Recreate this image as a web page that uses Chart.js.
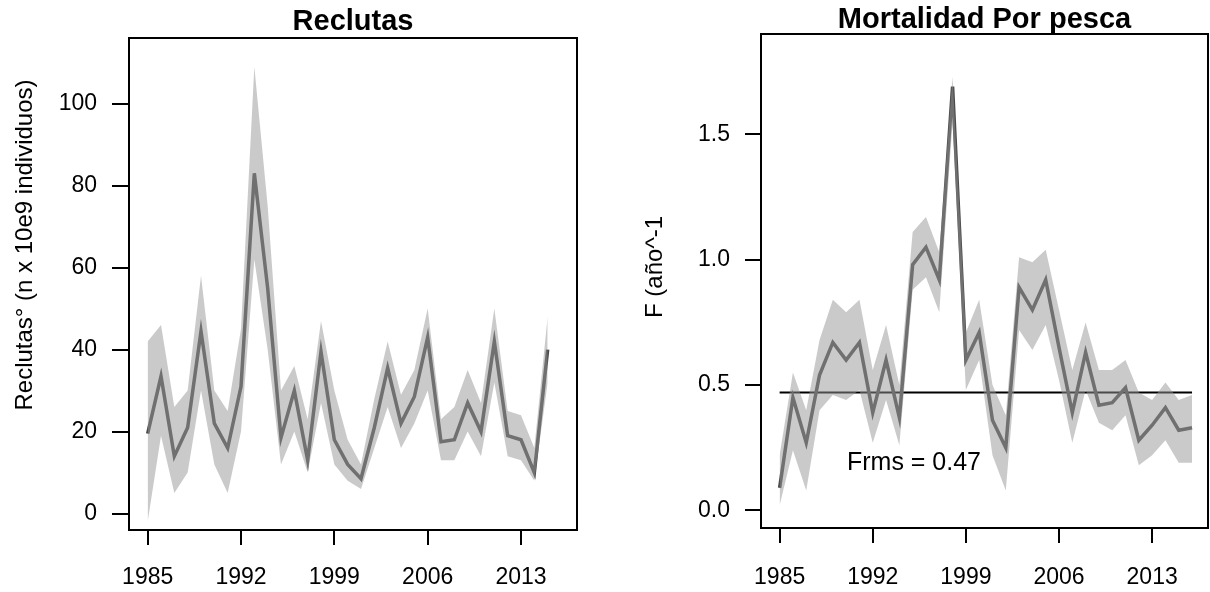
<!DOCTYPE html>
<html>
<head>
<meta charset="utf-8">
<script src="https://cdn.jsdelivr.net/npm/chart.js@4.4.1/dist/chart.umd.min.js"></script>
<style>
  html, body { margin: 0; padding: 0; background: #fff; }
  #wrap { position: relative; width: 1210px; height: 592px; }
  .panel { position: absolute; top: 0; width: 605px; height: 592px; }
</style>
</head>
<body>
<div id="wrap">
  <div class="panel" style="left:0"><canvas id="rec"></canvas></div>
  <div class="panel" style="left:605px"><canvas id="fm"></canvas></div>
</div>
<script>
// data
const yearsRec = [1985, 1986, 1987, 1988, 1989, 1990, 1991, 1992, 1993, 1994, 1995, 1996, 1997, 1998, 1999, 2000,
                  2001, 2002, 2003, 2004, 2005, 2006, 2007, 2008, 2009, 2010, 2011, 2012, 2013, 2014, 2015];
const reclutas     = [19.5, 33.5, 14, 21, 44.5, 22, 16, 31, 83, 55, 18.5, 30, 13, 39.5, 18, 12,
                      8.5, 21, 35.5, 22, 28.5, 43, 17.5, 18, 27, 20, 42, 19, 18, 10, 40];
const reclutasHigh = [42, 46, 26, 30, 58, 30, 25, 45, 109, 75, 30, 36, 23, 47, 30, 18,
                      12, 28, 42, 29, 35, 50, 23, 26, 35, 27, 50, 25, 24, 16, 48];
const reclutasLow  = [-2, 19, 5, 10, 30, 12, 5, 20, 62, 40, 12, 20, 10, 27, 12, 8,
                      6, 16, 26, 16, 22, 30, 13, 13, 20, 14, 32, 14, 13, 8, 32];

const yearsF = [1985, 1986, 1987, 1988, 1989, 1990, 1991, 1992, 1993, 1994, 1995, 1996, 1997, 1998, 1999, 2000,
                2001, 2002, 2003, 2004, 2005, 2006, 2007, 2008, 2009, 2010, 2011, 2012, 2013, 2014, 2015, 2016];
const mortF     = [0.09, 0.45, 0.27, 0.54, 0.67, 0.60, 0.67, 0.39, 0.60, 0.37, 0.98, 1.05, 0.92, 1.69, 0.60, 0.71,
                   0.36, 0.25, 0.89, 0.80, 0.92, 0.65, 0.39, 0.63, 0.42, 0.43, 0.49, 0.28, 0.34, 0.41, 0.32, 0.33];
const mortFHigh = [0.22, 0.55, 0.40, 0.68, 0.84, 0.79, 0.84, 0.56, 0.74, 0.50, 1.11, 1.17, 1.03, 1.73, 0.71, 0.84,
                   0.50, 0.38, 1.01, 0.99, 1.04, 0.80, 0.56, 0.75, 0.56, 0.56, 0.60, 0.47, 0.44, 0.51, 0.44, 0.46];
const mortFLow  = [0.02, 0.24, 0.08, 0.40, 0.46, 0.44, 0.48, 0.27, 0.44, 0.26, 0.88, 0.93, 0.79, 1.55, 0.48, 0.60,
                   0.22, 0.08, 0.72, 0.64, 0.74, 0.52, 0.27, 0.48, 0.35, 0.32, 0.38, 0.18, 0.22, 0.28, 0.19, 0.19];
const Frms = 0.47;

const xTicks = [1985, 1992, 1999, 2006, 2013];
const recTicks = [0, 20, 40, 60, 80, 100];
const fTicks = [0, 0.5, 1.0, 1.5];

const FONT = "'Liberation Sans', Arial, Helvetica, sans-serif";
const BAND = 'rgba(150,150,150,0.5)';
const LINE = '#4a4a4a';

function pts(xs, ys) {
  return xs.map((x, i) => ({ x: x, y: ys[i] }));
}

// R style box around the plot region, plus main title centred over it
const boxPlugin = {
  id: 'box',
  afterDatasetsDraw(chart, args, opts) {
    const a = chart.chartArea, ctx = chart.ctx;
    ctx.save();
    ctx.strokeStyle = '#000';
    ctx.lineWidth = 2;
    ctx.strokeRect(a.left, a.top, a.right - a.left, a.bottom - a.top);
    ctx.font = 'bold 29px ' + FONT;
    ctx.fillStyle = '#000';
    ctx.textAlign = 'center';
    ctx.textBaseline = 'middle';
    ctx.fillText(opts.title, (a.left + a.right) / 2, opts.ty);
    ctx.restore();
  }
};

// rotated y title, placed like the original
const yTitlePlugin = {
  id: 'ytitle',
  afterDraw(chart, args, opts) {
    const ctx = chart.ctx;
    ctx.save();
    ctx.translate(opts.x, opts.y);
    ctx.rotate(-Math.PI / 2);
    ctx.font = '24px ' + FONT;
    ctx.fillStyle = '#000';
    ctx.textAlign = 'center';
    ctx.textBaseline = 'middle';
    ctx.fillText(opts.text, 0, 0);
    ctx.restore();
  }
};

// "Frms = 0.47" label, positioned in data units
const notePlugin = {
  id: 'note',
  afterDatasetsDraw(chart, args, opts) {
    if (!opts.text) return;
    const ctx = chart.ctx;
    ctx.save();
    ctx.font = '25px ' + FONT;
    ctx.fillStyle = '#000';
    ctx.textAlign = 'center';
    ctx.textBaseline = 'middle';
    ctx.fillText(opts.text, chart.scales.x.getPixelForValue(opts.x), chart.scales.y.getPixelForValue(opts.y));
    ctx.restore();
  }
};

function axes(cfg) {
  const tickGrid = (len) => ({ drawOnChartArea: false, drawTicks: true, tickLength: len, color: '#000', lineWidth: 2 });
  return {
    x: {
      type: 'linear', min: 1983.6, max: 2017.2,
      afterBuildTicks: s => { s.ticks = xTicks.map(v => ({ value: v })); },
      afterFit: s => { s.height = cfg.xh; },
      border: { display: false },
      grid: tickGrid(15),
      ticks: { padding: cfg.xpad, color: '#000', font: { family: FONT, size: 23 }, maxRotation: 0, autoSkip: false,
               callback: v => String(v) }
    },
    y: {
      min: cfg.ymin, max: cfg.ymax,
      afterBuildTicks: s => { s.ticks = cfg.yticks.map(v => ({ value: v })); },
      afterFit: s => { s.width = cfg.yw; },
      border: { display: false },
      grid: tickGrid(cfg.ytl),
      ticks: { padding: 15, color: '#000', font: { family: FONT, size: 23 }, autoSkip: false,
               callback: cfg.yfmt }
    }
  };
}

function bandSets(xs, hi, lo, mid) {
  return [
    { data: pts(xs, hi), fill: '+1', backgroundColor: BAND, borderWidth: 0, pointRadius: 0 },
    { data: pts(xs, lo), fill: false, borderWidth: 0, pointRadius: 0 },
    { data: pts(xs, mid), fill: false, borderColor: LINE, borderWidth: 3.5, pointRadius: 0 }
  ];
}

new Chart(document.getElementById('rec'), {
  type: 'line',
  data: { datasets: bandSets(yearsRec, reclutasHigh, reclutasLow, reclutas) },
  options: {
    responsive: true, maintainAspectRatio: false, animation: false, devicePixelRatio: 1,
    layout: { padding: { left: 0, right: 28, top: 38, bottom: 0 } },
    scales: axes({ xh: 62, xpad: 19, ymin: -4, ymax: 116, yticks: recTicks, yw: 129, ytl: 17, yfmt: v => String(v) }),
    plugins: {
      legend: { display: false }, tooltip: { enabled: false },
      box: { title: 'Reclutas', ty: 22 },
      ytitle: { text: 'Reclutas\u00b0 (n x 10e9 individuos)', x: 25, y: 245 }
    }
  },
  plugins: [boxPlugin, yTitlePlugin]
});

new Chart(document.getElementById('fm'), {
  type: 'line',
  data: {
    datasets: bandSets(yearsF, mortFHigh, mortFLow, mortF).concat([
      { data: [{ x: yearsF[0], y: Frms }, { x: yearsF[yearsF.length - 1], y: Frms }], fill: false,
        borderColor: '#000', borderWidth: 2, pointRadius: 0 }
    ])
  },
  options: {
    responsive: true, maintainAspectRatio: false, animation: false, devicePixelRatio: 1,
    layout: { padding: { left: 0, right: 2, top: 34, bottom: 0 } },
    scales: axes({ xh: 64, xpad: 21, ymin: -0.07, ymax: 1.9, yticks: fTicks, yw: 156, ytl: 16, yfmt: v => v.toFixed(1) }),
    plugins: {
      legend: { display: false }, tooltip: { enabled: false },
      box: { title: 'Mortalidad Por pesca', ty: 20 },
      ytitle: { text: 'F (a\u00f1o^-1', x: 50, y: 267 },
      note: { text: 'Frms = 0.47', x: 1995.1, y: 0.19 }
    }
  },
  plugins: [boxPlugin, yTitlePlugin, notePlugin]
});
</script>
</body>
</html>
